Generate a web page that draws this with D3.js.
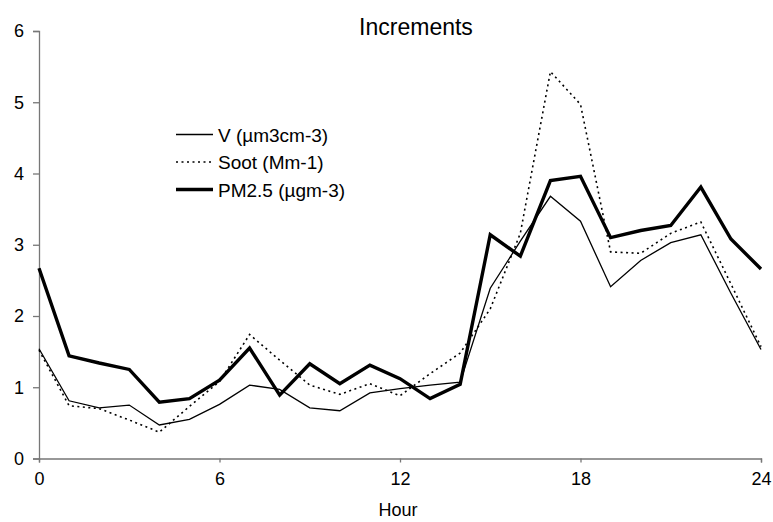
<!DOCTYPE html>
<html>
<head>
<meta charset="utf-8">
<script src="https://cdn.jsdelivr.net/npm/d3@7"></script>
<style>
  body { margin: 0; background: #fff; }
  svg text { font-family: "Liberation Sans", Arial, sans-serif; fill: #000; }
</style>
</head>
<body>
<svg id="chart" width="773" height="522"></svg>
<script>
// hours 0..24
var hours = d3.range(0, 25);
var xTicks = [0, 6, 12, 18, 24];
var yTicks = [0, 1, 2, 3, 4, 5, 6];

var vValues = [1.54, 0.81, 0.71, 0.75, 0.47, 0.55, 0.76, 1.03, 0.97, 0.71, 0.67, 0.92, 0.98, 1.03, 1.07,
               2.39, 3.05, 3.68, 3.33, 2.41, 2.78, 3.03, 3.14, 2.32, 1.53];
var sootValues = [1.52, 0.74, 0.70, 0.54, 0.37, 0.73, 1.08, 1.74, 1.38, 1.03, 0.90, 1.05, 0.88, 1.19, 1.48,
                  2.10, 3.16, 5.43, 4.97, 2.90, 2.88, 3.16, 3.32, 2.45, 1.57];
var pmValues = [2.67, 1.44, 1.34, 1.25, 0.79, 0.84, 1.10, 1.55, 0.89, 1.33, 1.05, 1.31, 1.12, 0.84, 1.04,
                3.14, 2.84, 3.90, 3.96, 3.10, 3.20, 3.27, 3.81, 3.08, 2.66];

var seriesNames = ["V (\u00b5m3cm-3)", "Soot (Mm-1)", "PM2.5 (\u00b5gm-3)"];

var svg = d3.select("#chart");

var x = d3.scaleLinear().domain([0, 24]).range([39, 761]);
var y = d3.scaleLinear().domain([0, 6]).range([458.5, 31]);

var axisColor = "#777";

//y axis
var yAxis = svg.append("g")
  .attr("transform", "translate(" + x(0) + ",0)")
  .call(d3.axisLeft(y).tickValues(yTicks).tickSize(6).tickPadding(9).tickFormat(d3.format("d")));

//x axis
var xAxis = svg.append("g")
  .attr("transform", "translate(0," + y(0) + ")")
  .call(d3.axisBottom(x).tickValues(xTicks).tickSize(4).tickPadding(10).tickFormat(d3.format("d")));

[yAxis, xAxis].forEach(function(a){
  a.select(".domain").attr("stroke", axisColor).attr("stroke-width", 1.3);
  a.selectAll(".tick line").attr("stroke", axisColor).attr("stroke-width", 1.3);
  a.selectAll(".tick text").style("font-size", "18px").attr("fill", "#000");
});

var line = d3.line()
  .x(function(d, i){ return x(hours[i]); })
  .y(function(d){ return y(d); });

var series = [
  {values: sootValues, width: 1.6, dash: "2,3.5"},
  {values: vValues, width: 1.3, dash: null},
  {values: pmValues, width: 3.4, dash: null}
];

svg.selectAll("path.series")
  .data(series)
  .enter()
  .append("path")
  .attr("class", "series")
  .attr("d", function(s){ return line(s.values); })
  .attr("fill", "none")
  .attr("stroke", "#000")
  .attr("stroke-width", function(s){ return s.width; })
  .attr("stroke-dasharray", function(s){ return s.dash; })
  .attr("stroke-linejoin", "miter");

//title and axis label
svg.append("text")
  .attr("x", 416).attr("y", 35)
  .attr("text-anchor", "middle")
  .style("font-size", "23px")
  .text("Increments");

svg.append("text")
  .attr("x", 398).attr("y", 516)
  .attr("text-anchor", "middle")
  .style("font-size", "18px")
  .text("Hour");

//legend
var legendStyles = [
  {width: 1.3, dash: null},
  {width: 1.6, dash: "2,3.5"},
  {width: 3.4, dash: null}
];

var legend = svg.selectAll("g.legend")
  .data(seriesNames)
  .enter()
  .append("g")
  .attr("class", "legend")
  .attr("transform", function(d, i){ return "translate(176," + (134.5 + i * 27.5) + ")"; });

legend.append("line")
  .attr("x1", 0).attr("x2", 37)
  .attr("stroke", "#000")
  .attr("stroke-width", function(d, i){ return legendStyles[i].width; })
  .attr("stroke-dasharray", function(d, i){ return legendStyles[i].dash; });

legend.append("text")
  .attr("x", 42).attr("y", 7)
  .style("font-size", "19px")
  .text(function(d){ return d; });
</script>
</body>
</html>
